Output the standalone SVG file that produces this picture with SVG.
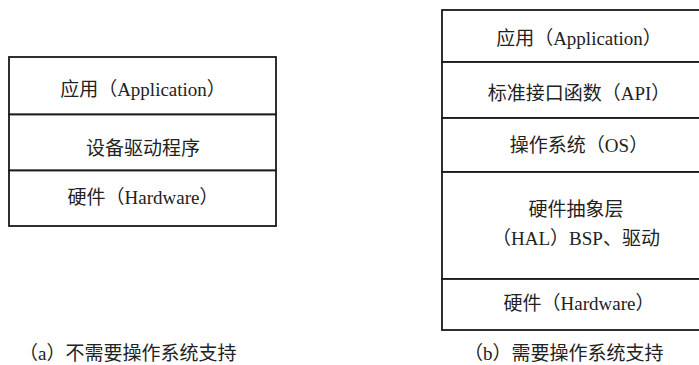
<svg xmlns="http://www.w3.org/2000/svg" width="699" height="365" viewBox="0 0 699 365">
<style>
.box{fill:#fff;stroke:#1a1a1a;stroke-width:1.8}
.t{font-family:"Liberation Serif","Noto Sans CJK SC",serif;font-size:19px;fill:#222;text-anchor:middle}
.cap{font-family:"Liberation Serif","Noto Sans CJK SC",serif;font-size:19px;fill:#222}
</style>
<rect width="699" height="365" fill="#fff"/>
<g id="stack-a">
<g id="a-app"><rect class="box" x="9" y="57" width="267" height="57.5"/><text class="t" x="143" y="96">应用（Application）</text></g>
<g id="a-driver"><rect class="box" x="9" y="114.5" width="267" height="56"/><text class="t" x="143" y="155">设备驱动程序</text></g>
<g id="a-hw"><rect class="box" x="9" y="170.5" width="267" height="55.5"/><text class="t" x="143" y="204">硬件（Hardware）</text></g>
</g>
<g id="stack-b">
<g id="b-app"><rect class="box" x="442" y="10" width="300" height="52"/><text class="t" x="579" y="45">应用（Application）</text></g>
<g id="b-api"><rect class="box" x="442" y="62" width="300" height="56"/><text class="t" x="579" y="100">标准接口函数（API）</text></g>
<g id="b-os"><rect class="box" x="442" y="118" width="300" height="54"/><text class="t" x="579" y="152">操作系统（OS）</text></g>
<g id="b-hal"><rect class="box" x="442" y="172" width="300" height="107"/><text class="t" x="576" y="216">硬件抽象层</text><text class="t" x="576" y="245">（HAL）BSP、驱动</text></g>
<g id="b-hw"><rect class="box" x="442" y="279" width="300" height="51"/><text class="t" x="579" y="310">硬件（Hardware）</text></g>
</g>
<g id="connectors"/>
<g id="captions">
<text class="cap" x="19" y="360">（a）不需要操作系统支持</text>
<text class="cap" x="464" y="360">（b）需要操作系统支持</text>
</g>
</svg>
